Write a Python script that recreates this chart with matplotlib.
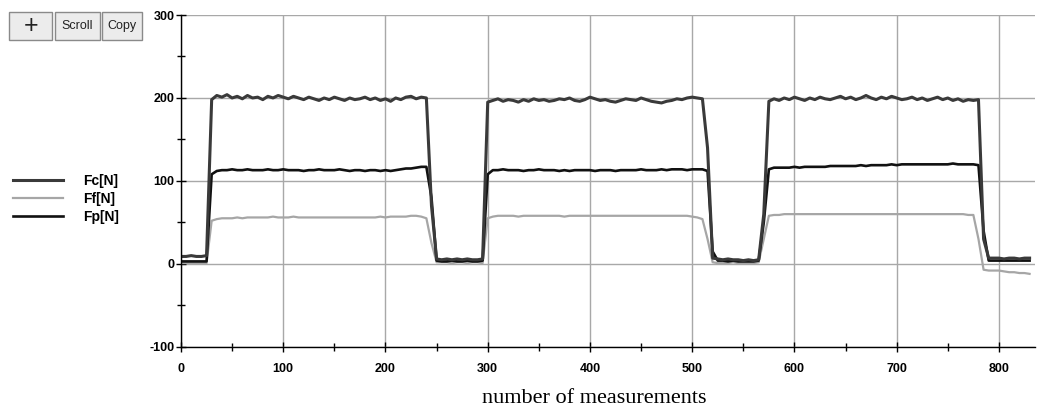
import numpy as np
import matplotlib
matplotlib.use("Agg")
import matplotlib.pyplot as plt
from matplotlib.ticker import MultipleLocator
from matplotlib.patches import Rectangle

plt.rcParams["axes.unicode_minus"] = False

# measurement index (sampled every 5 measurements)
measurements = np.arange(0, 835, 5)

Fc = [
    9, 9, 10, 9, 9, 10,
    198, 203, 201, 204, 200, 202, 199, 203, 200, 201,
    198, 202, 200, 203, 201, 199, 202, 200, 198, 201,
    199, 197, 200, 198, 201, 199, 197, 200, 198, 199,
    201, 198, 200, 197, 199, 196, 200, 198, 201, 202,
    199, 201,
    200, 70, 6,
    5, 6, 5, 6, 5, 6, 5, 5, 6,
    195, 197, 199, 196, 198, 197, 195, 198, 196, 199,
    197, 198, 196, 197, 199, 198, 200, 197, 196, 198,
    201, 199, 197, 198, 196, 195, 197, 199, 198, 197,
    200, 198, 196, 195, 194, 196, 197, 199, 198, 200,
    201, 200, 199,
    140, 7,
    6, 5, 6, 5, 5, 4, 5, 4, 5,
    60,
    196, 199, 197, 200, 198, 201, 199, 197, 200, 198,
    201, 199, 198, 200, 202, 199, 201, 198, 200, 203,
    200, 198, 201, 199, 202, 200, 198, 199, 201, 198,
    200, 197, 199, 201, 198, 200, 197, 199, 196, 198,
    197,
    198, 30, 7,
    7, 7, 6, 7, 7, 6, 7, 7,
]

Fp = [
    3, 3, 3, 3, 3, 3,
    108,
    112, 113, 113, 114, 113, 113, 114, 113, 113, 113,
    114, 113, 113, 114, 113, 113, 113, 112, 113, 113,
    114, 113, 113, 113, 114, 113, 112, 113, 113, 112,
    113, 113, 112, 113, 112, 113, 114, 115, 115, 116,
    117,
    117, 80, 4,
    3, 3, 4, 3, 3, 4, 3, 3, 4,
    108,
    113, 113, 114, 113, 113, 113, 112, 113, 113, 114,
    113, 113, 113, 112, 113, 112, 113, 113, 113, 113,
    112, 113, 113, 113, 112, 113, 113, 113, 113, 114,
    113, 113, 113, 114, 113, 114, 114, 114, 113, 114,
    114, 114,
    112, 15,
    4, 4, 3, 4, 3, 3, 3, 3, 4,
    50,
    114, 116, 116, 116, 116, 117, 116, 117, 117, 117,
    117, 117, 118, 118, 118, 118, 118, 118, 119, 118,
    119, 119, 119, 119, 120, 119, 120, 120, 120, 120,
    120, 120, 120, 120, 120, 120, 121, 120, 120, 120,
    120,
    119, 40, 4,
    4, 4, 4, 4, 4, 4, 4, 4,
]

Ff = [
    1, 1, 1, 1, 1, 1,
    52,
    54, 55, 55, 55, 56, 55, 56, 56, 56, 56,
    56, 57, 56, 56, 56, 57, 56, 56, 56, 56,
    56, 56, 56, 56, 56, 56, 56, 56, 56, 56,
    56, 56, 57, 56, 57, 57, 57, 57, 58, 58,
    57,
    55, 25, 2,
    2, 2, 1, 2, 2, 1, 2, 2, 1,
    55,
    57, 58, 58, 58, 58, 57, 58, 58, 58, 58,
    58, 58, 58, 58, 57, 58, 58, 58, 58, 58,
    58, 58, 58, 58, 58, 58, 58, 58, 58, 58,
    58, 58, 58, 58, 58, 58, 58, 58, 58, 57,
    56, 54,
    30, 2,
    1, 1, 1, 2, 1, 1, 1, 1, 2,
    30,
    58, 59, 59, 60, 60, 60, 60, 60, 60, 60,
    60, 60, 60, 60, 60, 60, 60, 60, 60, 60,
    60, 60, 60, 60, 60, 60, 60, 60, 60, 60,
    60, 60, 60, 60, 60, 60, 60, 60, 60, 59,
    59,
    30, -7, -8,
    -8, -8, -9, -10, -10, -11, -11, -12,
]

assert len(Fc) == len(measurements) == len(Fp) == len(Ff)

series_names = ["Fc[N]", "Ff[N]", "Fp[N]"]
x_ticks = [0, 100, 200, 300, 400, 500, 600, 700, 800]
y_ticks = [-100, 0, 100, 200, 300]

fig = plt.figure(figsize=(10.42, 4.11), dpi=100)
ax = fig.add_axes([0.1737, 0.156, 0.8193, 0.8075])

l_ff, = ax.plot(measurements, Ff, color="#a6a6a6", lw=1.6, label=series_names[1])
l_fp, = ax.plot(measurements, Fp, color="#111111", lw=1.9, label=series_names[2])
l_fc, = ax.plot(measurements, Fc, color="#3a3a3a", lw=2.2, label=series_names[0])

ax.set_xlim(0, 835)
ax.set_ylim(-100, 300)
ax.set_xticks(x_ticks)
ax.set_yticks(y_ticks)
ax.xaxis.set_minor_locator(MultipleLocator(50))
ax.yaxis.set_minor_locator(MultipleLocator(50))
ax.grid(True, which="major", color="#a8a8a8", lw=1.0)
ax.set_axisbelow(True)
for s in ["top", "right"]:
    ax.spines[s].set_visible(False)
for s in ["left", "bottom"]:
    ax.spines[s].set_color("black")
    ax.spines[s].set_linewidth(1.0)
ax.tick_params(which="major", direction="inout", length=7, width=1, color="black")
ax.tick_params(which="minor", direction="inout", length=6, width=1, color="black")
ax.tick_params(axis="x", which="major", pad=8)
ax.tick_params(axis="y", which="major", pad=1)
for lab in ax.get_xticklabels() + ax.get_yticklabels():
    lab.set_fontfamily("Liberation Sans")
    lab.set_fontweight("bold")
    lab.set_fontsize(9)

fig.text(0.570, 0.030, "number of measurements", ha="center", va="center",
         fontsize=16, family="Liberation Serif")

fig.legend(handles=[l_fc, l_ff, l_fp], labels=series_names, loc="center left",
           bbox_to_anchor=(0.0, 0.516), frameon=False, handlelength=3.6,
           handletextpad=1.45, labelspacing=0.28,
           prop={"family": "Liberation Sans", "weight": "bold", "size": 10})

# toolbar buttons
buttons = [(0.009, 0.041, "+"), (0.053, 0.043, "Scroll"), (0.098, 0.038, "Copy")]
for x0, w, t in buttons:
    fig.patches.append(Rectangle((x0, 0.902), w, 0.068, transform=fig.transFigure,
                                 facecolor="#ececec", edgecolor="#8a8a8a", lw=1.0))
    fig.text(x0 + w / 2, 0.936, t, ha="center", va="center",
             fontsize=18 if t == "+" else 9, family="Liberation Sans",
             color="#222222")

fig.savefig("out.png", dpi=100)
